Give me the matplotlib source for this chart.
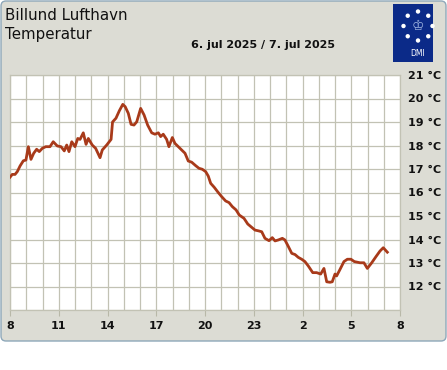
import numpy as np
import matplotlib
matplotlib.use('Agg')
import matplotlib.pyplot as plt
from matplotlib.patches import FancyBboxPatch, Rectangle, Circle
from matplotlib.ticker import MultipleLocator

# hours after 08:00 on 6 July, temperature in deg C
hours = [0.00, 0.14, 0.31, 0.45, 0.62, 0.82, 0.98, 1.13, 1.29, 1.46, 1.64, 1.80,
         1.99, 2.20, 2.46, 2.66, 2.91, 3.14, 3.34, 3.49, 3.63, 3.80, 4.00, 4.17,
         4.31, 4.51, 4.68, 4.82, 5.06, 5.27, 5.54, 5.68, 5.95, 6.22, 6.31, 6.52,
         6.73, 6.94, 7.09, 7.28, 7.45, 7.63, 7.80, 8.04, 8.25, 8.47, 8.72, 8.92,
         9.13, 9.27, 9.43, 9.64, 9.78, 9.99, 10.15, 10.46, 10.77, 10.97, 11.18,
         11.43, 11.63, 11.83, 12.04, 12.20, 12.35, 12.57, 12.78, 13.03, 13.27,
         13.48, 13.68, 13.91, 14.11, 14.40, 14.63, 14.87, 15.08, 15.28, 15.49,
         15.69, 15.94, 16.14, 16.31, 16.51, 16.76, 16.92, 17.13, 17.34, 17.54,
         17.74, 17.95, 18.15, 18.36, 18.63, 18.87, 19.12, 19.32, 19.49, 19.69,
         19.83, 20.00, 20.10, 20.31, 20.55, 20.76, 20.98, 21.19, 21.54, 21.78,
         21.99, 22.26, 22.52, 22.77, 22.97, 23.22]
temps = [16.65, 16.77, 16.77, 16.89, 17.13, 17.35, 17.38, 17.95, 17.41, 17.67, 17.84, 17.74,
         17.88, 17.95, 17.95, 18.16, 17.98, 17.95, 17.77, 18.02, 17.74, 18.16, 17.95, 18.30,
         18.26, 18.54, 18.05, 18.30, 18.02, 17.88, 17.48, 17.81, 18.02, 18.26, 19.00, 19.16,
         19.48, 19.75, 19.65, 19.37, 18.90, 18.87, 19.01, 19.58, 19.30, 18.87, 18.54, 18.48,
         18.54, 18.38, 18.48, 18.26, 17.95, 18.34, 18.09, 17.88, 17.67, 17.34, 17.29,
         17.14, 17.03, 16.99, 16.89, 16.70, 16.39, 16.22, 16.03, 15.82, 15.64,
         15.57, 15.40, 15.26, 15.04, 14.90, 14.66, 14.52, 14.40, 14.37, 14.33,
         14.05, 13.95, 14.08, 13.94, 13.98, 14.05, 13.98, 13.70, 13.41, 13.36,
         13.24, 13.16, 13.06, 12.87, 12.59, 12.59, 12.53, 12.77, 12.20, 12.18,
         12.20, 12.53, 12.45, 12.73, 13.06, 13.16, 13.16, 13.06, 13.01, 13.01,
         12.77, 13.01, 13.27, 13.51, 13.65, 13.46]

xtick_pos = [0, 3, 6, 9, 12, 15, 18, 21, 24]
xtick_labels = ['8', '11', '14', '17', '20', '23', '2', '5', '8']
ytick_pos = list(range(12, 22))
ytick_labels = [f'{t} °C' for t in ytick_pos]

W, H = 447, 370
fig = plt.figure(figsize=(W / 100, H / 100), dpi=100, facecolor='white')

# background panel in pixel coordinates
bg = fig.add_axes([0, 0, 1, 1], zorder=-1)
bg.set_xlim(0, W)
bg.set_ylim(H, 0)
bg.axis('off')
bg.add_patch(FancyBboxPatch((1, 1), W - 2, 340, boxstyle='round,pad=0,rounding_size=5',
                            facecolor='#dcdcd4', edgecolor='#8ea8ba', linewidth=1))
bg.text(5, 15, 'Billund Lufthavn', fontsize=10.8, va='center', ha='left', color='#111111')
bg.text(5, 35, 'Temperatur', fontsize=10.8, va='center', ha='left', color='#111111')
bg.text(263, 45, '6. jul 2025 / 7. jul 2025', fontsize=8, fontweight='bold',
        va='center', ha='center', color='#111111')

# DMI logo
bg.add_patch(Rectangle((393, 4), 40, 58, facecolor='#0b2a88', edgecolor='none'))
for a in np.deg2rad(np.arange(0, 360, 45)):
    bg.add_patch(Circle((418 + 14.5 * np.cos(a), 26 + 14.5 * np.sin(a)), 2.2,
                        facecolor='white', edgecolor='none'))
bg.text(418, 26, '♔', fontsize=10, color='#9fb4e0', ha='center', va='center')
bg.text(418, 54, 'DMI', fontsize=5.5, color='white', ha='center', va='center')

# main plot
ax = fig.add_axes([10 / W, 1 - 310 / H, 390 / W, 235 / H])
ax.set_facecolor('white')
ax.plot(hours, temps, color='#a83a1a', linewidth=2.0, solid_joinstyle='round', zorder=3)
ax.set_xlim(0, 24)
ax.set_ylim(11, 21)

ax.set_xticks(xtick_pos)
ax.set_xticklabels(xtick_labels, fontsize=8, fontweight='bold')
ax.xaxis.set_minor_locator(MultipleLocator(1))
ax.yaxis.tick_right()
ax.set_yticks(ytick_pos)
ax.set_yticklabels(ytick_labels, fontsize=8, fontweight='bold')
ax.yaxis.set_minor_locator(MultipleLocator(1))

ax.tick_params(axis='x', which='major', length=4, width=0.8, color='#b8b8a8',
               pad=4, labelcolor='#111111')
ax.tick_params(axis='y', which='major', length=0, pad=6, labelcolor='#111111')
ax.tick_params(which='minor', length=0)
ax.grid(True, which='both', color='#c2c2b4', linewidth=0.9)
ax.set_axisbelow(True)
for s in ax.spines.values():
    s.set_color('#c2c2b4')
    s.set_linewidth(0.9)

fig.savefig('out.png', dpi=100, facecolor='white')
